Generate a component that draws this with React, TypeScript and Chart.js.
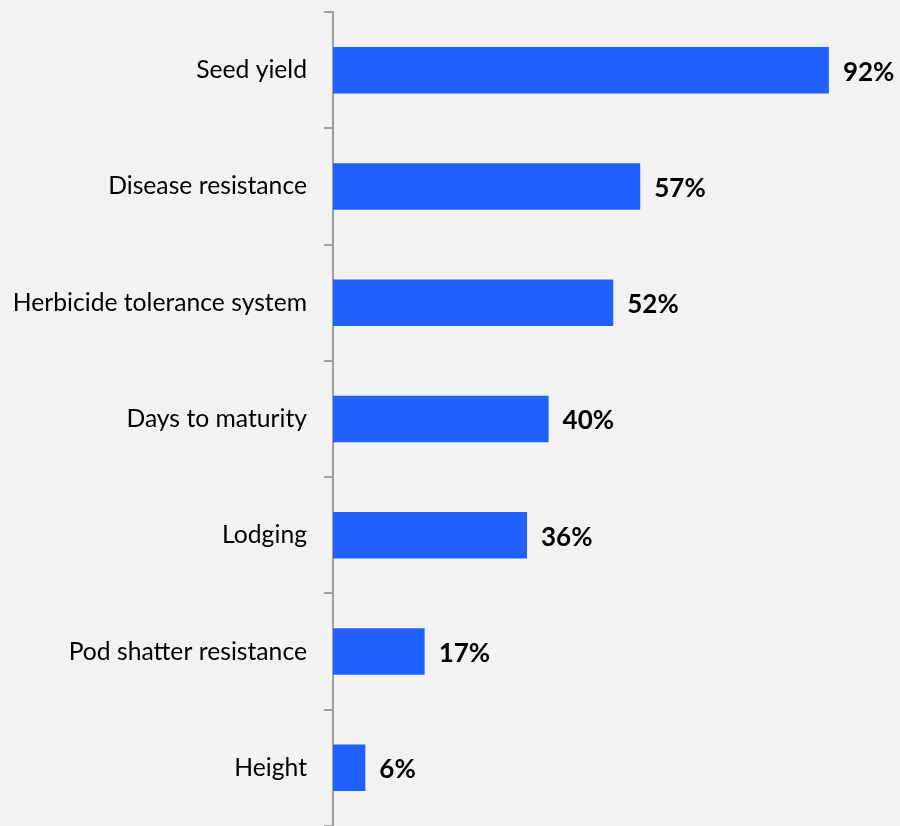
import React, { useEffect, useRef } from "react";
import { Chart, registerables } from "chart.js";

Chart.register(...registerables);

const categories = [
  "Seed yield",
  "Disease resistance",
  "Herbicide tolerance system",
  "Days to maturity",
  "Lodging",
  "Pod shatter resistance",
  "Height",
];
const values = [92, 57, 52, 40, 36, 17, 6];
const valueLabels = ["92%", "57%", "52%", "40%", "36%", "17%", "6%"];

const FONT = "Lato, 'Open Sans', sans-serif";

const labelPlugin = {
  id: "barLabels",
  afterDatasetsDraw(chart: any) {
    const ctx = chart.ctx;
    const meta = chart.getDatasetMeta(0);
    ctx.save();
    ctx.font = `bold 26px ${FONT}`;
    ctx.fillStyle = "#000000";
    ctx.textAlign = "left";
    ctx.textBaseline = "middle";
    meta.data.forEach((bar: any, i: number) => {
      ctx.fillText(valueLabels[i], bar.x + 14, bar.y + 2);
    });
    ctx.restore();
  },
};

export default function App() {
  const ref = useRef<HTMLCanvasElement>(null);
  useEffect(() => {
    document.body.style.margin = "0";
    document.body.style.background = "#f2f2f2";
    const chart = new Chart(ref.current!, {
      type: "bar",
      data: {
        labels: categories,
        datasets: [
          {
            data: values,
            backgroundColor: "#1f60ff",
            borderWidth: 0,
            barPercentage: 0.4,
            categoryPercentage: 1,
          },
        ],
      },
      options: {
        indexAxis: "y",
        animation: false,
        responsive: false,
        maintainAspectRatio: false,
        layout: { padding: { top: 12, bottom: 0, left: 0, right: 28 } },
        plugins: {
          legend: { display: false },
          tooltip: { enabled: false },
        },
        scales: {
          x: { display: false, min: 0, max: 100 },
          y: {
            afterFit(scale: any) {
              scale.width = 333;
              scale.paddingTop = 0;
              scale.paddingBottom = 0;
            },
            grid: {
              display: true,
              offset: true,
              drawOnChartArea: false,
              drawTicks: true,
              tickLength: 9,
              color: "#a0a0a0",
              lineWidth: 2,
            },
            border: { display: true, color: "#a0a0a0", width: 2 },
            ticks: {
              padding: 17,
              color: "#000000",
              font: { family: FONT, size: 24.7 },
            },
          },
        },
      },
      plugins: [labelPlugin],
    });
    return () => chart.destroy();
  }, []);
  return (
    <div style={{ position: "fixed", left: 0, top: 0, width: 900, height: 826, background: "#f2f2f2" }}>
      <canvas ref={ref} width={900} height={826} style={{ display: "block", width: 900, height: 826 }} />
    </div>
  );
}
